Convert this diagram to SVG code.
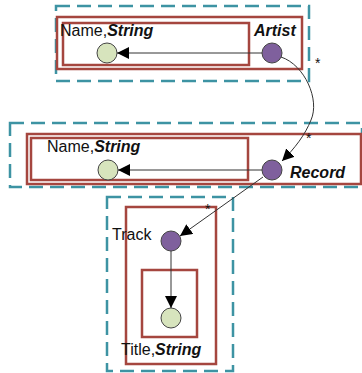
<svg xmlns="http://www.w3.org/2000/svg" width="362" height="373" viewBox="0 0 362 373">
<style>
.dash{fill:none;stroke:#3d93a3;stroke-width:2.5;stroke-dasharray:14 7}
.red{fill:none;stroke:#a5463f;stroke-width:2.5}
.leaf{fill:#d7e4bd;stroke:#444;stroke-width:1}
.obj{fill:#7f609d;stroke:#444;stroke-width:1}
.t{font-family:"Liberation Sans",Arial,sans-serif;font-size:16px;fill:#111}
.b{font-weight:bold;font-style:italic}
.e{fill:none;stroke:#333;stroke-width:1}
.s{font-family:"Liberation Sans",Arial,sans-serif;font-size:14px;fill:#111}
</style>
<defs>
<marker id="ar" viewBox="0 0 10 10" refX="10" refY="5" markerWidth="12" markerHeight="12" markerUnits="userSpaceOnUse" orient="auto">
<path d="M0,0 L10,5 L0,10 z" fill="#000"/>
</marker>
</defs>
<g id="artist">
<rect class="dash" x="56" y="6" width="253" height="75"/>
<rect class="red" x="57" y="17" width="245" height="52"/>
<rect class="red" x="63" y="23" width="186" height="42"/>
<text class="t" x="60" y="36">Name,<tspan class="b">String</tspan></text>
<text class="t b" x="254" y="36">Artist</text>
<circle class="leaf" cx="107" cy="53" r="10"/>
<circle class="obj" cx="272" cy="53" r="10"/>
</g>
<g id="record">
<rect class="dash" x="10" y="123" width="352" height="64"/>
<rect class="red" x="27" y="134" width="334" height="50"/>
<rect class="red" x="31" y="138" width="217" height="42"/>
<text class="t" x="47" y="152">Name,<tspan class="b">String</tspan></text>
<text class="t b" x="290" y="178">Record</text>
<circle class="leaf" cx="108" cy="170" r="10"/>
<circle class="obj" cx="272" cy="170" r="10"/>
</g>
<g id="track">
<rect class="dash" x="107" y="197" width="126" height="174"/>
<rect class="red" x="126" y="207" width="90" height="157"/>
<rect class="red" x="142" y="270" width="55" height="67"/>
<text class="t" x="112" y="240">Track</text>
<text class="t" x="121" y="355">Title,<tspan class="b">String</tspan></text>
<circle class="obj" cx="171" cy="241" r="10"/>
<circle class="leaf" cx="171" cy="318" r="10"/>
</g>
<g id="connectors">
<line class="e" x1="262" y1="53" x2="117" y2="53" marker-end="url(#ar)"/>
<line class="e" x1="262" y1="170" x2="118" y2="170" marker-end="url(#ar)"/>
<path class="e" d="M281,57 C305,65 320,100 311,120 C305,135 295,148 282,161" marker-end="url(#ar)"/>
<line class="e" x1="263" y1="177" x2="180" y2="236" marker-end="url(#ar)"/>
<line class="e" x1="171" y1="251" x2="171" y2="308" marker-end="url(#ar)"/>
<text class="s" x="315" y="68">*</text>
<text class="s" x="306" y="143">*</text>
<text class="s" x="205" y="214">*</text>
</g>
</svg>
